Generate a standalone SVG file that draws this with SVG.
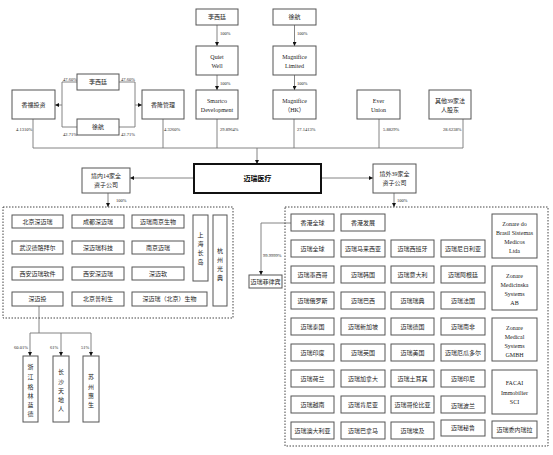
<svg xmlns="http://www.w3.org/2000/svg" width="553" height="455" viewBox="0 0 553 455">
<defs>
<style>
.b{fill:#fff;stroke:#555;stroke-width:1}
.d{fill:none;stroke:#444;stroke-width:1;stroke-dasharray:1.5 1.5}
.t{font-family:"Liberation Serif","Noto Sans CJK SC",serif;font-size:6px;fill:#222;text-anchor:middle}
.p{font-family:"Liberation Serif","Noto Sans CJK SC",serif;font-size:4.5px;fill:#222}
.c{fill:none;stroke:#777;stroke-width:0.9}
.ce{fill:none;stroke:#777;stroke-width:0.9;marker-end:url(#ah)}
</style>
<marker id="ah" viewBox="0 0 6 6" refX="6" refY="3" markerWidth="4" markerHeight="4" markerUnits="userSpaceOnUse" orient="auto">
<path d="M0,0 L6,3 L0,6 z" fill="#111"/>
</marker>
</defs>
<rect width="553" height="455" fill="#fff"/>

<g id="connectors">
<line class="ce" x1="217" y1="25" x2="217" y2="46"/>
<line class="ce" x1="217" y1="75" x2="217" y2="90"/>
<line class="ce" x1="294.5" y1="25" x2="294.5" y2="46"/>
<line class="ce" x1="294.5" y1="75" x2="294.5" y2="90"/>
<polyline class="c" points="77,82 62,82 62,127 77,127"/>
<line class="ce" x1="62" y1="105" x2="55" y2="105"/>
<polyline class="c" points="119,82 135,82 135,127 119,127"/>
<line class="ce" x1="135" y1="105" x2="142" y2="105"/>
<line class="c" x1="33" y1="119" x2="33" y2="148"/>
<line class="c" x1="163" y1="119" x2="163" y2="148"/>
<line class="c" x1="217" y1="119" x2="217" y2="148"/>
<line class="c" x1="294" y1="119" x2="294" y2="148"/>
<line class="c" x1="379" y1="119" x2="379" y2="148"/>
<line class="c" x1="463" y1="119" x2="463" y2="148"/>
<line class="c" x1="33" y1="148" x2="463" y2="148"/>
<line class="ce" x1="257" y1="148" x2="257" y2="164"/>
<line class="ce" x1="194" y1="178" x2="130" y2="178"/>
<line class="ce" x1="321" y1="178" x2="373" y2="178"/>
<line class="ce" x1="108" y1="193" x2="108" y2="207"/>
<line class="ce" x1="394" y1="193" x2="394" y2="207"/>
<line class="c" x1="39" y1="306" x2="39" y2="333"/>
<line class="c" x1="30" y1="333" x2="91" y2="333"/>
<line class="ce" x1="30" y1="333" x2="30" y2="356"/>
<line class="ce" x1="61" y1="333" x2="61" y2="356"/>
<line class="ce" x1="91" y1="333" x2="91" y2="356"/>
<polyline class="ce" points="291,223 261,223 261,275"/>
</g>

<g id="labels">
<text class="p" x="220" y="35">100%</text>
<text class="p" x="220" y="85">100%</text>
<text class="p" x="297" y="35">100%</text>
<text class="p" x="297" y="85">100%</text>
<text class="p" x="63" y="80.5">47.60%</text>
<text class="p" x="121" y="80.5">47.60%</text>
<text class="p" x="63" y="135.5">42.71%</text>
<text class="p" x="121" y="135.5">42.71%</text>
<text class="p" x="16" y="131">4.1310%</text>
<text class="p" x="164" y="131">4.3260%</text>
<text class="p" x="220" y="131">29.8964%</text>
<text class="p" x="297" y="131">27.1413%</text>
<text class="p" x="383" y="131">5.8829%</text>
<text class="p" x="443" y="131">28.6238%</text>
<text class="p" x="116" y="202">100%</text>
<text class="p" x="397" y="202">100%</text>
<text class="p" x="263" y="257">99.9999%</text>
<text class="p" x="14" y="349">60.01%</text>
<text class="p" x="50" y="349">61%</text>
<text class="p" x="81" y="349">51%</text>
</g>

<g id="n-lxt-top"><rect class="b" x="196" y="9" width="42" height="16"/><text class="t" x="217" y="19">李西廷</text></g>
<g id="n-quiet"><rect class="b" x="196" y="46" width="42" height="29"/><text class="t" x="217" y="59">Quiet</text><text class="t" x="217" y="68">Well</text></g>
<g id="n-smartco"><rect class="b" x="196" y="90" width="42" height="29"/><text class="t" x="217" y="103">Smartco</text><text class="t" x="217" y="112">Development</text></g>
<g id="n-xh-top"><rect class="b" x="273" y="9" width="43" height="16"/><text class="t" x="294.5" y="19">徐航</text></g>
<g id="n-maglim"><rect class="b" x="273" y="46" width="43" height="29"/><text class="t" x="294.5" y="59">Magnifice</text><text class="t" x="294.5" y="68">Limited</text></g>
<g id="n-maghk"><rect class="b" x="273" y="90" width="43" height="29"/><text class="t" x="294.5" y="103">Magnifice</text><text class="t" x="294.5" y="112">（HK）</text></g>
<g id="n-ever"><rect class="b" x="357" y="90" width="43" height="29"/><text class="t" x="378.5" y="103">Ever</text><text class="t" x="378.5" y="112">Union</text></g>
<g id="n-other"><rect class="b" x="429" y="90" width="42" height="29"/><text class="t" x="450" y="103">其他39家法</text><text class="t" x="450" y="112">人股东</text></g>
<g id="n-xf"><rect class="b" x="12" y="90" width="43" height="29"/><text class="t" x="33.5" y="107">香福投资</text></g>
<g id="n-lxt-mid"><rect class="b" x="77" y="74" width="42" height="16"/><text class="t" x="98" y="84">李西廷</text></g>
<g id="n-xh-mid"><rect class="b" x="77" y="119" width="42" height="16"/><text class="t" x="98" y="129">徐航</text></g>
<g id="n-xl"><rect class="b" x="142" y="90" width="42" height="29"/><text class="t" x="163" y="107">香隆管理</text></g>

<g id="n-mindray"><rect x="194" y="164" width="127" height="29" fill="#fff" stroke="#111" stroke-width="2"/><text class="t" x="257.5" y="181" style="font-size:7px;font-weight:bold;fill:#000">迈瑞医疗</text></g>
<g id="n-dom"><rect class="b" x="82" y="168" width="48" height="25"/><text class="t" x="106" y="178">境内14家全</text><text class="t" x="106" y="187">资子公司</text></g>
<g id="n-ovs"><rect class="b" x="373" y="164" width="43" height="29"/><text class="t" x="394.5" y="176">境外39家全</text><text class="t" x="394.5" y="185">资子公司</text></g>

<g id="g-domestic">
<rect class="d" x="3" y="207" width="230" height="111"/>
<g id="n-d1"><rect class="b" x="12" y="215" width="51" height="13"/><text class="t" x="37.5" y="223.5">北京深迈瑞</text></g>
<g id="n-d2"><rect class="b" x="72" y="215" width="52" height="13"/><text class="t" x="98" y="223.5">成都深迈瑞</text></g>
<g id="n-d3"><rect class="b" x="132" y="215" width="52" height="13"/><text class="t" x="158" y="223.5">迈瑞南京生物</text></g>
<g id="n-d4"><rect class="b" x="12" y="241" width="51" height="13"/><text class="t" x="37.5" y="249.5">武汉德骼拜尔</text></g>
<g id="n-d5"><rect class="b" x="72" y="241" width="52" height="13"/><text class="t" x="98" y="249.5">深迈瑞科技</text></g>
<g id="n-d6"><rect class="b" x="132" y="241" width="52" height="13"/><text class="t" x="158" y="249.5">南京迈瑞</text></g>
<g id="n-d7"><rect class="b" x="12" y="267" width="51" height="13"/><text class="t" x="37.5" y="275.5">西安迈瑞软件</text></g>
<g id="n-d8"><rect class="b" x="72" y="267" width="52" height="13"/><text class="t" x="98" y="275.5">西安深迈瑞</text></g>
<g id="n-d9"><rect class="b" x="132" y="267" width="52" height="13"/><text class="t" x="158" y="275.5">深迈软</text></g>
<g id="n-d10"><rect class="b" x="12" y="292" width="51" height="14"/><text class="t" x="37.5" y="301">深迈投</text></g>
<g id="n-d11"><rect class="b" x="72" y="292" width="52" height="14"/><text class="t" x="98" y="301">北京普利生</text></g>
<g id="n-d12"><rect class="b" x="132" y="292" width="75" height="14"/><text class="t" x="169.5" y="301">深迈瑞（北京）生物</text></g>
<g id="n-d13"><rect class="b" x="193" y="215" width="15" height="66"/><text class="t" x="200.5" y="237">上</text><text class="t" x="200.5" y="246">海</text><text class="t" x="200.5" y="255">长</text><text class="t" x="200.5" y="264">岛</text></g>
<g id="n-d14"><rect class="b" x="213" y="215" width="14" height="91"/><text class="t" x="220" y="253">杭</text><text class="t" x="220" y="262">州</text><text class="t" x="220" y="271">光</text><text class="t" x="220" y="280">典</text></g>
</g>

<g id="n-zj"><rect class="b" x="23" y="356" width="15" height="66"/><text class="t" x="30.5" y="369">浙</text><text class="t" x="30.5" y="379">江</text><text class="t" x="30.5" y="388.5">格</text><text class="t" x="30.5" y="398">林</text><text class="t" x="30.5" y="407">蓝</text><text class="t" x="30.5" y="416">德</text></g>
<g id="n-cs"><rect class="b" x="53" y="356" width="16" height="66"/><text class="t" x="61" y="374">长</text><text class="t" x="61" y="384">沙</text><text class="t" x="61" y="393">天</text><text class="t" x="61" y="402">地</text><text class="t" x="61" y="411">人</text></g>
<g id="n-sz"><rect class="b" x="83" y="356" width="16" height="66"/><text class="t" x="91" y="379">苏</text><text class="t" x="91" y="389">州</text><text class="t" x="91" y="398">惠</text><text class="t" x="91" y="407">生</text></g>

<g id="n-ph"><rect class="b" x="249" y="275" width="33" height="13"/><text class="t" x="265.5" y="283.5">迈瑞菲律宾</text></g>

<g id="g-overseas">
<rect class="d" x="285" y="207" width="263" height="239"/>
<g id="n-o1"><rect class="b" x="291" y="214" width="43" height="17"/><text class="t" x="312.5" y="224.5">香港全球</text></g>
<g id="n-o2"><rect class="b" x="341" y="214" width="44" height="17"/><text class="t" x="363" y="224.5">香港发展</text></g>
<g id="n-o3"><rect class="b" x="291" y="240" width="43" height="17"/><text class="t" x="312.5" y="250.5">迈瑞全球</text></g>
<g id="n-o4"><rect class="b" x="341" y="240" width="44" height="17"/><text class="t" x="363" y="250.5">迈瑞马来西亚</text></g>
<g id="n-o5"><rect class="b" x="391" y="240" width="43" height="17"/><text class="t" x="412.5" y="250.5">迈瑞西班牙</text></g>
<g id="n-o6"><rect class="b" x="441" y="240" width="44" height="17"/><text class="t" x="463" y="250.5">迈瑞尼日利亚</text></g>
<g id="n-o7"><rect class="b" x="291" y="266" width="43" height="17"/><text class="t" x="312.5" y="276.5">迈瑞墨西哥</text></g>
<g id="n-o8"><rect class="b" x="341" y="266" width="44" height="17"/><text class="t" x="363" y="277">迈瑞韩国</text></g>
<g id="n-o9"><rect class="b" x="391" y="266" width="43" height="17"/><text class="t" x="412.5" y="277">迈瑞意大利</text></g>
<g id="n-o10"><rect class="b" x="441" y="266" width="44" height="17"/><text class="t" x="463" y="277">迈瑞阿根廷</text></g>
<g id="n-o11"><rect class="b" x="291" y="292" width="43" height="17"/><text class="t" x="312.5" y="302.5">迈瑞俄罗斯</text></g>
<g id="n-o12"><rect class="b" x="341" y="292" width="44" height="17"/><text class="t" x="363" y="302.5">迈瑞巴西</text></g>
<g id="n-o13"><rect class="b" x="391" y="292" width="43" height="17"/><text class="t" x="412.5" y="302.5">迈瑞瑞典</text></g>
<g id="n-o14"><rect class="b" x="441" y="292" width="44" height="17"/><text class="t" x="463" y="302.5">迈瑞法国</text></g>
<g id="n-o15"><rect class="b" x="291" y="318" width="43" height="17"/><text class="t" x="312.5" y="328.5">迈瑞泰国</text></g>
<g id="n-o16"><rect class="b" x="341" y="318" width="44" height="17"/><text class="t" x="363" y="328.5">迈瑞新加坡</text></g>
<g id="n-o17"><rect class="b" x="391" y="318" width="43" height="17"/><text class="t" x="412.5" y="328.5">迈瑞德国</text></g>
<g id="n-o18"><rect class="b" x="441" y="318" width="44" height="17"/><text class="t" x="463" y="328.5">迈瑞南非</text></g>
<g id="n-o19"><rect class="b" x="291" y="344" width="43" height="17"/><text class="t" x="312.5" y="354.5">迈瑞印度</text></g>
<g id="n-o20"><rect class="b" x="341" y="344" width="44" height="17"/><text class="t" x="363" y="354.5">迈瑞英国</text></g>
<g id="n-o21"><rect class="b" x="391" y="344" width="43" height="17"/><text class="t" x="412.5" y="354.5">迈瑞美国</text></g>
<g id="n-o22"><rect class="b" x="441" y="344" width="44" height="17"/><text class="t" x="463" y="354.5">迈瑞厄瓜多尔</text></g>
<g id="n-o23"><rect class="b" x="291" y="370" width="43" height="17"/><text class="t" x="312.5" y="380.5">迈瑞荷兰</text></g>
<g id="n-o24"><rect class="b" x="341" y="370" width="44" height="17"/><text class="t" x="363" y="380.5">迈瑞加拿大</text></g>
<g id="n-o25"><rect class="b" x="391" y="370" width="43" height="17"/><text class="t" x="412.5" y="380.5">迈瑞土耳其</text></g>
<g id="n-o26"><rect class="b" x="441" y="370" width="44" height="17"/><text class="t" x="463" y="380.5">迈瑞印尼</text></g>
<g id="n-o27"><rect class="b" x="291" y="396" width="43" height="17"/><text class="t" x="312.5" y="407">迈瑞越南</text></g>
<g id="n-o28"><rect class="b" x="341" y="396" width="44" height="17"/><text class="t" x="363" y="407">迈瑞肯尼亚</text></g>
<g id="n-o29"><rect class="b" x="391" y="396" width="43" height="17"/><text class="t" x="412.5" y="407">迈瑞哥伦比亚</text></g>
<g id="n-o30"><rect class="b" x="441" y="396" width="44" height="17"/><text class="t" x="463" y="408">迈瑞波兰</text></g>
<g id="n-o31"><rect class="b" x="291" y="422" width="43" height="17"/><text class="t" x="312.5" y="432.5">迈瑞澳大利亚</text></g>
<g id="n-o32"><rect class="b" x="341" y="422" width="44" height="17"/><text class="t" x="363" y="432.5">迈瑞巴拿马</text></g>
<g id="n-o33"><rect class="b" x="391" y="422" width="43" height="17"/><text class="t" x="412.5" y="432.5">迈瑞埃及</text></g>
<g id="n-o34"><rect class="b" x="441" y="420" width="44" height="16"/><text class="t" x="463" y="430">迈瑞秘鲁</text></g>
<g id="n-o35"><rect class="b" x="492" y="421" width="45" height="17"/><text class="t" x="514.5" y="431.5">迈瑞委内瑞拉</text></g>
<g id="n-z1"><rect class="b" x="492" y="214" width="45" height="44"/><text class="t" x="514.5" y="226">Zonare do</text><text class="t" x="514.5" y="235">Brasil Sistemas</text><text class="t" x="514.5" y="244">Medicos</text><text class="t" x="514.5" y="253">Ltda</text></g>
<g id="n-z2"><rect class="b" x="492" y="266" width="45" height="44"/><text class="t" x="514.5" y="278">Zonare</text><text class="t" x="514.5" y="287">Medicinska</text><text class="t" x="514.5" y="296">Systems</text><text class="t" x="514.5" y="305">AB</text></g>
<g id="n-z3"><rect class="b" x="492" y="318" width="45" height="43"/><text class="t" x="514.5" y="330">Zonare</text><text class="t" x="514.5" y="339">Medical</text><text class="t" x="514.5" y="348">Systems</text><text class="t" x="514.5" y="357">GMBH</text></g>
<g id="n-z4"><rect class="b" x="492" y="370" width="45" height="44"/><text class="t" x="514.5" y="385">FACAI</text><text class="t" x="514.5" y="394.5">Immobilier</text><text class="t" x="514.5" y="404">SCI</text></g>
</g>
</svg>
